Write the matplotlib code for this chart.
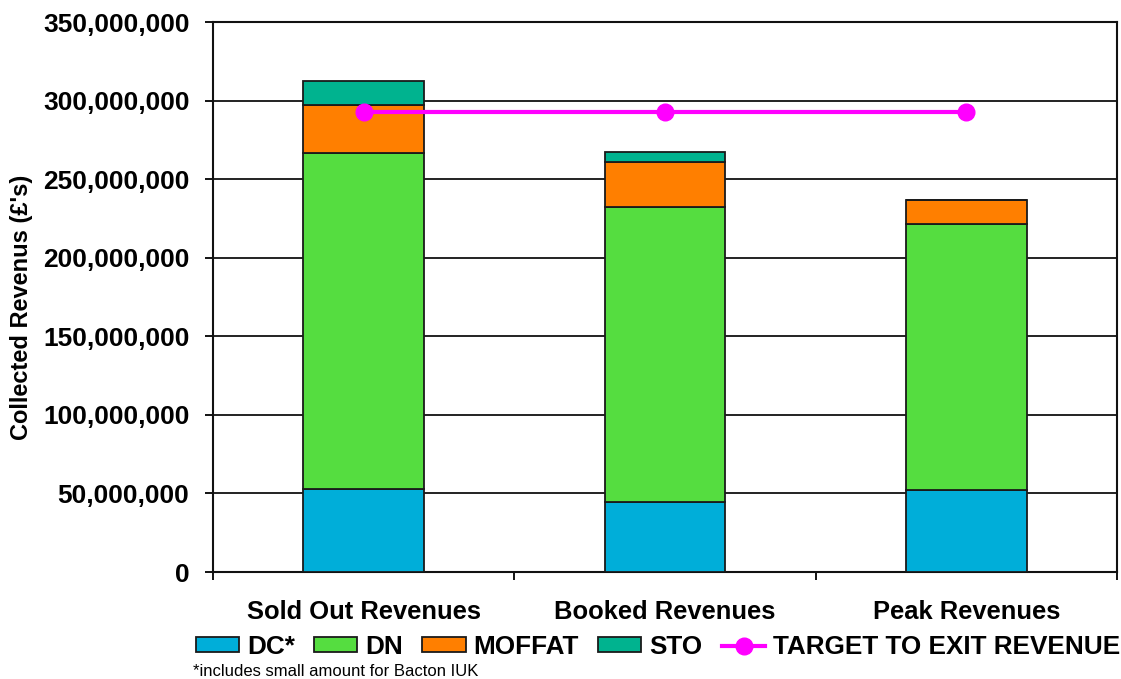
import numpy as np
import matplotlib.pyplot as plt
from matplotlib.ticker import FuncFormatter

plt.rcParams['font.family'] = ['Liberation Sans', 'DejaVu Sans']
plt.rcParams['font.weight'] = 'bold'

categories = ['Sold Out Revenues', 'Booked Revenues', 'Peak Revenues']
dc = [53.0e6, 44.5e6, 52.2e6]
dn = [213.6e6, 187.8e6, 169.3e6]
moffat = [30.5e6, 28.7e6, 15.2e6]
sto = [15.5e6, 6.0e6, 0.0]
target = [292.7e6, 292.7e6, 292.7e6]

series = [('DC*', dc, '#00AED9'), ('DN', dn, '#55DD40'),
          ('MOFFAT', moffat, '#FF7F00'), ('STO', sto, '#00B38F')]

fig = plt.figure(figsize=(11.21, 6.79), dpi=100)
ax = fig.add_axes([213 / 1121, 1 - 572 / 679, 904 / 1121, 550 / 679])

x = np.arange(len(categories))
bottom = np.zeros(len(categories))
handles = []
for name, vals, col in series:
    vals = np.array(vals)
    b = ax.bar(x, vals, 0.4, bottom=bottom, color=col, edgecolor='#1a1a1a',
               linewidth=1.3, label=name, zorder=3)
    handles.append(b)
    bottom += vals

ln, = ax.plot(x, target, color='#FF00FF', lw=3, marker='o', ms=12,
              label='TARGET TO EXIT REVENUE', zorder=4)
handles.append(ln)

ax.set_xlim(-0.5, 2.5)
ax.set_ylim(0, 350e6)
ax.set_yticks(np.arange(0, 350e6 + 1, 50e6))
ax.yaxis.set_major_formatter(FuncFormatter(lambda v, p: f'{int(v):,}'))
ax.grid(axis='y', color='#111111', lw=1.3, zorder=0)
for s in ax.spines.values():
    s.set_linewidth(1.5)
    s.set_color('#111111')

ax.set_xticks(x)
ax.set_xticklabels(categories, fontsize=18.4, fontweight='bold')
ax.tick_params(axis='x', which='major', length=0, pad=20)
ax.set_xticks([-0.5, 0.5, 1.5, 2.5], minor=True)
ax.tick_params(axis='x', which='minor', length=6, width=1.3)
ax.tick_params(axis='y', length=6, width=1.3, labelsize=19, pad=11)
for t in ax.get_yticklabels():
    t.set_fontweight('bold')

fig.text(22 / 1121, 1 - 307 / 679, "Collected Revenus (£'s)", rotation=90,
         ha='center', va='center', fontsize=17, fontweight='bold')

fig.legend(handles=handles, loc='center', bbox_to_anchor=(658 / 1121, 1 - 647 / 679),
           ncol=5, frameon=False, handlelength=1.65, handleheight=0.5,
           handletextpad=0.3, columnspacing=0.75, borderpad=0.1,
           prop={'weight': 'bold', 'size': 18.8})

fig.text(193 / 1121, 1 - 671 / 679, '*includes small amount for Bacton IUK',
         fontsize=12, va='center', ha='left', fontweight='normal')

fig.savefig('out.png', dpi=100)
